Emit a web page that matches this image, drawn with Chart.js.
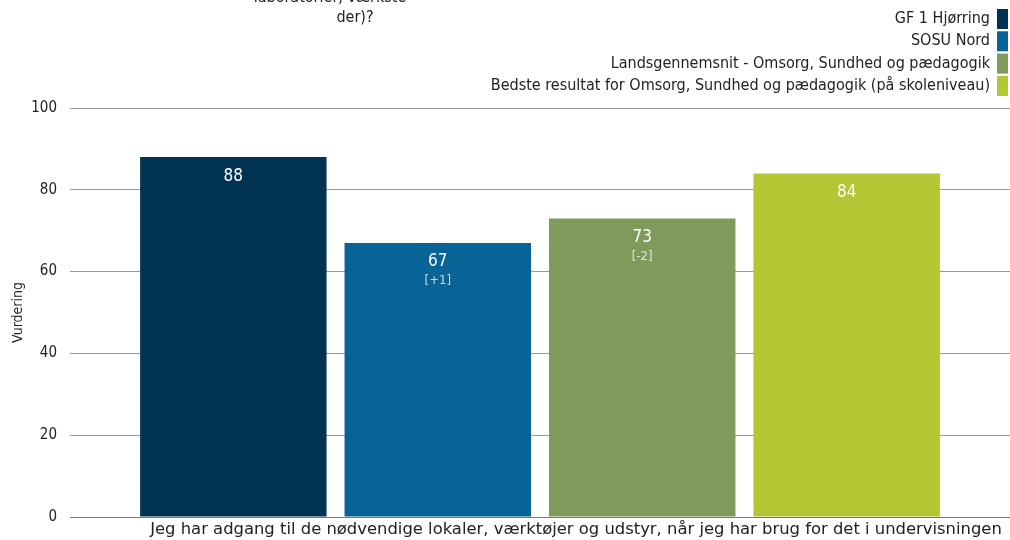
<!DOCTYPE html>
<html>
<head>
<meta charset="utf-8">
<script src="https://cdn.jsdelivr.net/npm/chart.js@4"></script>
<style>
  body { margin: 0; background: #fff; }
  #wrap { width: 1010px; height: 540px; }
</style>
</head>
<body>
<div id="wrap"><canvas id="graf"></canvas></div>
<script>
// Data
const kategorier = ['Jeg har adgang til de nødvendige lokaler, værktøjer og udstyr, når jeg har brug for det i undervisningen'];
const serier = ['GF 1 Hjørring', 'SOSU Nord', 'Landsgennemsnit - Omsorg, Sundhed og pædagogik', 'Bedste resultat for Omsorg, Sundhed og pædagogik (på skoleniveau)'];
const vaerdier = [88, 67, 73, 84];
const forskel = [null, '+1', '-2', null];
const farver = ['#003452', '#086496', '#7f9a5a', '#b3c634'];
const yTicks = [0, 20, 40, 60, 80, 100];
const titelLinjer = ['laboratorier, værkste', 'der)?'];

const FONT = '"DejaVu Sans Condensed", "DejaVu Sans", sans-serif';

// Titel og legende tegnes selv (én linje pr. serie, boks til højre)
const topTekst = {
    id: 'topTekst',
    afterDraw(chart) {
        const ctx = chart.ctx;
        ctx.save();
        ctx.font = '16px ' + FONT;
        ctx.fillStyle = '#222';
        ctx.textAlign = 'center';
        ctx.textBaseline = 'middle';
        ctx.fillText(titelLinjer[0], 330, -2);
        ctx.fillText(titelLinjer[1], 355, 18);

        ctx.textAlign = 'right';
        chart.data.datasets.forEach((ds, i) => {
            const y = 19 + i * 22.3;
            ctx.fillStyle = ds.backgroundColor;
            ctx.fillRect(997, y - 10, 11, 20);
            ctx.fillStyle = '#222';
            ctx.fillText(ds.label, 990, y);
        });
        ctx.restore();
    }
};

// Værdier inde i søjlerne
const soejleTekst = {
    id: 'soejleTekst',
    afterDatasetsDraw(chart) {
        const ctx = chart.ctx;
        ctx.save();
        ctx.textAlign = 'center';
        ctx.textBaseline = 'middle';
        chart.data.datasets.forEach((ds, i) => {
            const bar = chart.getDatasetMeta(i).data[0];
            ctx.font = '17px ' + FONT;
            ctx.fillStyle = '#fff';
            ctx.fillText(ds.data[0], bar.x, bar.y + 19);
            if (forskel[i]) {
                ctx.font = '13px ' + FONT;
                ctx.fillStyle = 'rgba(255,255,255,0.75)';
                ctx.fillText('[' + forskel[i] + ']', bar.x, bar.y + 38);
            }
        });
        ctx.restore();
    }
};

new Chart(document.getElementById('graf'), {
    type: 'bar',
    data: {
        labels: kategorier,
        datasets: serier.map((s, i) => ({
            label: s,
            data: [vaerdier[i]],
            backgroundColor: farver[i]
        }))
    },
    options: {
        responsive: true,
        maintainAspectRatio: false,
        animation: false,
        datasets: { bar: { categoryPercentage: 0.87, barPercentage: 0.912 } },
        layout: { padding: { top: 108, right: 0, left: 0, bottom: 0 } },
        plugins: {
            legend: { display: false },
            tooltip: { enabled: false },
            title: { display: false }
        },
        scales: {
            x: {
                afterFit: s => { s.height = 23; },
                grid: { display: false, drawTicks: false },
                border: { color: '#7a7a7a' },
                ticks: { color: '#222', font: { family: '"DejaVu Sans", sans-serif', size: 16.4 }, padding: 3, maxRotation: 0, autoSkip: false, labelOffset: 36 }
            },
            y: {
                min: 0,
                max: 100,
                afterFit: s => { s.width = 70; },
                afterBuildTicks: ax => { ax.ticks = yTicks.map(v => ({ value: v })); },
                grid: { color: '#9a9a9a', drawTicks: false },
                border: { display: false },
                ticks: { color: '#222', font: { family: FONT, size: 15 }, padding: 13 },
                title: { display: true, text: 'Vurdering', color: '#222', font: { family: FONT, size: 14 }, padding: { top: 10, bottom: 0 } }
            }
        }
    },
    plugins: [topTekst, soejleTekst]
});
</script>
</body>
</html>
